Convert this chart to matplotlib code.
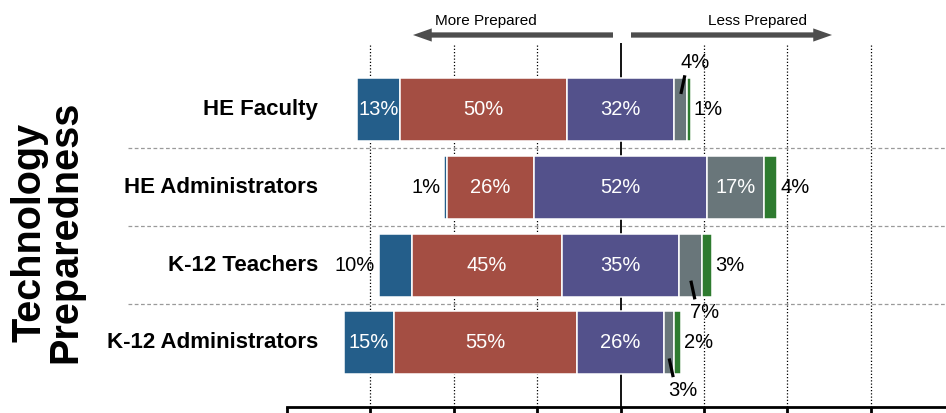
import matplotlib
matplotlib.use('Agg')
import matplotlib.pyplot as plt
import matplotlib.transforms as mtransforms
import numpy as np

plt.rcParams['font.family'] = ['Liberation Sans', 'DejaVu Sans']

# ---------------- data ----------------
groups = ['HE Faculty', 'HE Administrators', 'K-12 Teachers', 'K-12 Administrators']
very_prepared = [13, 1, 10, 15]
prepared = [50, 26, 45, 55]
somewhat_prepared = [32, 52, 35, 26]
unprepared = [4, 17, 7, 3]
very_unprepared = [1, 4, 3, 2]
x_ticks = [-100, -75, -50, -25, 0, 25, 50, 75, 100]
axis_title = 'Technology\nPreparedness'
left_arrow_label = 'More Prepared'
right_arrow_label = 'Less Prepared'

series = [very_prepared, prepared, somewhat_prepared, unprepared, very_unprepared]
colors = ['#245E8A', '#A44E43', '#53518B', '#69767A', '#2E7B2F']
# where each percentage label sits
placement = [
    ['in', 'in', 'in', 'above', 'right'],
    ['left', 'in', 'in', 'in', 'right'],
    ['left', 'in', 'in', 'below', 'right'],
    ['in', 'in', 'in', 'below', 'right'],
]

W, H = 946, 413
fig = plt.figure(figsize=(W / 100, H / 100), dpi=100)
ax = fig.add_axes([287 / W, 6 / H, 667 / W, 364 / H])
ax.set_xlim(-100, 100)
ax.set_ylim(3.824, -0.855)

vals = np.array(series).T  # rows = groups
bar_h = 0.81
for i, row in enumerate(vals):
    start = -(row[0] + row[1] + row[2] / 2.0)
    lefts = start + np.concatenate([[0], np.cumsum(row)[:-1]])
    ax.barh([i] * len(row), row, left=lefts, height=bar_h, color=colors,
            edgecolor='white', linewidth=1.1, zorder=3)
    for j, v in enumerate(row):
        c = lefts[j] + v / 2.0
        mode = placement[i][j]
        lab = f'{v}%'
        if mode == 'in':
            ax.text(c, i, lab, color='white', ha='center', va='center',
                    fontsize=14.5, zorder=5)
        elif mode == 'left':
            ax.annotate(lab, xy=(lefts[j], i), xytext=(-2.5, 0),
                        textcoords='offset points', ha='right', va='center',
                        fontsize=14.5, color='black', zorder=5)
        elif mode == 'right':
            ax.annotate(lab, xy=(lefts[j] + v, i), xytext=(2.2, 0),
                        textcoords='offset points', ha='left', va='center',
                        fontsize=14.5, color='black', zorder=5)
        else:
            s = -1 if mode == 'above' else 1
            ax.plot([c + 0.1, c + 1.3], [i + s * 0.2, i + s * 0.44],
                    color='black', lw=2.3, zorder=6, solid_capstyle='butt')
            ax.text(c + 4.3, i + s * 0.61, lab, ha='center', va='center',
                    fontsize=14.5, color='black', zorder=5)

# grid lines
for t in x_ticks:
    if t in (-100, 100):
        continue
    if t == 0:
        ax.axvline(0, color='black', lw=1.3, zorder=1)
    else:
        ax.axvline(t, color='black', lw=0.9, ls=(0, (1, 1.6)), zorder=1)
for k in range(len(groups) - 1):
    ax.axhline(k + 0.5, xmin=-0.2384, xmax=1, color='#9a9a9a', lw=0.9,
               ls=(0, (3, 2)), clip_on=False, zorder=1)

for s in ['top', 'left', 'right']:
    ax.spines[s].set_visible(False)
ax.spines['bottom'].set_linewidth(2)
ax.set_xticks(x_ticks)
ax.tick_params(axis='x', direction='out', length=5, width=2, labelbottom=False)
ax.set_yticks([])

# category labels
trans = mtransforms.blended_transform_factory(ax.transAxes, ax.transData)
for i, g in enumerate(groups):
    ax.text((318 - 287) / 667, i, g, transform=trans, ha='right', va='center',
            fontsize=16, fontweight='bold', zorder=5)

# axis title
fig.text(47 / W, 1 - 232 / H, axis_title, rotation=90, ha='center', va='center',
         fontsize=28.5, fontweight='bold', linespacing=0.93)

# direction arrows
arrow_kw = dict(arrowstyle='simple,head_length=1.35,head_width=0.95,tail_width=0.38',
                mutation_scale=10, color='#4d4d4d', lw=0, shrinkA=0, shrinkB=0)
ay = 1 - 35 / H
ax.annotate('', xy=(413 / W, ay), xytext=(613 / W, ay), xycoords='figure fraction',
            textcoords='figure fraction', arrowprops=arrow_kw, annotation_clip=False)
ax.annotate('', xy=(832 / W, ay), xytext=(631 / W, ay), xycoords='figure fraction',
            textcoords='figure fraction', arrowprops=arrow_kw, annotation_clip=False)
fig.text(486 / W, 1 - 21 / H, left_arrow_label, ha='center', va='center', fontsize=11)
fig.text(757 / W, 1 - 21 / H, right_arrow_label, ha='center', va='center', fontsize=11)

fig.savefig('out.png', dpi=100)
